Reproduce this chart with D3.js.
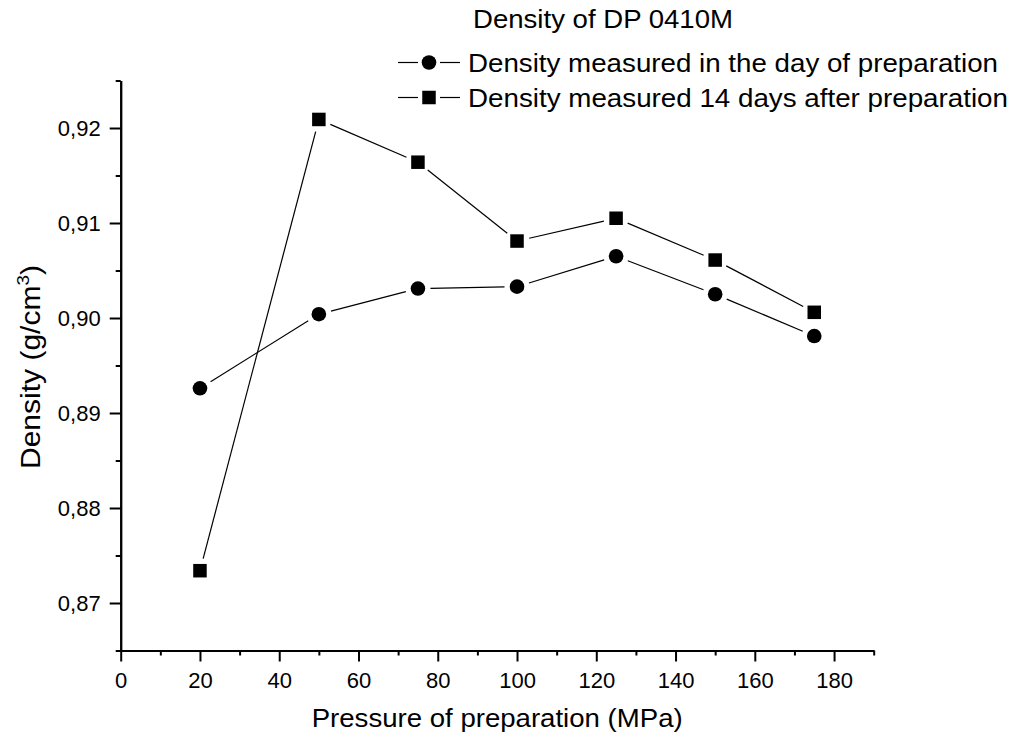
<!DOCTYPE html>
<html>
<head>
<meta charset="utf-8">
<script src="https://cdn.jsdelivr.net/npm/d3@7"></script>
<style>
  body { margin: 0; background: #fff; }
  text { font-family: "Liberation Sans", Arial, sans-serif; fill: #000; }
</style>
</head>
<body>
<script>
// data
var pressure = [20, 50, 75, 100, 125, 150, 175];
var densityDay0 = [0.8926, 0.9004, 0.9031, 0.9033, 0.9065, 0.9025, 0.8981];
var densityDay14 = [0.8734, 0.9209, 0.9164, 0.9081, 0.9105, 0.9061, 0.9006];
var seriesNames = ["Density measured in the day of preparation",
                   "Density measured 14 days after preparation"];
var xTicks = [0, 20, 40, 60, 80, 100, 120, 140, 160, 180];
var yTicks = [0.87, 0.88, 0.89, 0.90, 0.91, 0.92];

var width = 1022, height = 742;
var plotLeft = 120.7, plotRight = 873.7, plotTop = 80.5, plotBottom = 650.5;

var svg = d3.select("body").append("svg")
   .attr("width", width)
   .attr("height", height);

var x = d3.scaleLinear().domain([0, 190]).range([plotLeft, plotRight]);
var y = d3.scaleLinear().domain([0.865, 0.925]).range([plotBottom, plotTop]);

var comma = d3.formatLocale({decimal: ",", thousands: ".", grouping: [3], currency: ["", ""]});

// minor ticks first, then major with labels
svg.append("g")
   .attr("transform", "translate(0," + plotBottom + ")")
   .call(d3.axisBottom(x).tickValues(d3.range(10, 191, 20)).tickSize(5).tickSizeOuter(0).tickFormat(""));
svg.append("g")
   .attr("transform", "translate(0," + plotBottom + ")")
   .call(d3.axisBottom(x).tickValues(xTicks).tickSize(11).tickSizeOuter(0).tickPadding(11));

svg.append("g")
   .attr("transform", "translate(" + plotLeft + ",0)")
   .call(d3.axisLeft(y).tickValues([0.865, 0.875, 0.885, 0.895, 0.905, 0.915, 0.925]).tickSize(5).tickSizeOuter(0).tickFormat(""));
svg.append("g")
   .attr("transform", "translate(" + plotLeft + ",0)")
   .call(d3.axisLeft(y).tickValues(yTicks).tickSize(11).tickSizeOuter(0).tickPadding(9).tickFormat(comma.format(".2f")));

svg.selectAll(".domain").attr("stroke-width", 2);
svg.selectAll(".tick line").attr("stroke-width", 2);
svg.selectAll(".tick text").style("font-size", "22px");

// axis titles
svg.append("text")
   .attr("x", (plotLeft + plotRight) / 2)
   .attr("y", 727)
   .attr("text-anchor", "middle")
   .style("font-size", "25px")
   .attr("textLength", 371)
   .attr("lengthAdjust", "spacingAndGlyphs")
   .text("Pressure of preparation (MPa)");

var ylab = svg.append("text")
   .attr("transform", "translate(40," + 367 + ") rotate(-90)")
   .attr("text-anchor", "middle")
   .attr("textLength", 204)
   .attr("lengthAdjust", "spacingAndGlyphs")
   .style("font-size", "27px");
ylab.append("tspan").text("Density (g/cm");
ylab.append("tspan").attr("dy", -11).style("font-size", "17px").text("3");
ylab.append("tspan").attr("dy", 11).text(")");

// title
svg.append("text")
   .attr("x", 473)
   .attr("y", 28)
   .style("font-size", "25px")
   .attr("textLength", 260)
   .attr("lengthAdjust", "spacingAndGlyphs")
   .text("Density of DP 0410M");

// lines broken around each marker, like the original plot
var gap = 12.5;
function drawSeries(values) {
   var pts = pressure.map(function (p, i) { return [x(p), y(values[i])]; });
   var segs = [];
   for (var i = 0; i < pts.length - 1; i++) {
      var dx = pts[i + 1][0] - pts[i][0], dy = pts[i + 1][1] - pts[i][1];
      var len = Math.sqrt(dx * dx + dy * dy);
      var ux = dx / len, uy = dy / len;
      segs.push([[pts[i][0] + ux * gap, pts[i][1] + uy * gap],
                 [pts[i + 1][0] - ux * gap, pts[i + 1][1] - uy * gap]]);
   }
   svg.append("g").selectAll("line")
      .data(segs)
      .enter().append("line")
      .attr("x1", function (d) { return d[0][0]; })
      .attr("y1", function (d) { return d[0][1]; })
      .attr("x2", function (d) { return d[1][0]; })
      .attr("y2", function (d) { return d[1][1]; })
      .attr("stroke", "#000")
      .attr("stroke-width", 1.2);
}

drawSeries(densityDay0);
svg.append("g").selectAll("circle")
   .data(pressure)
   .enter().append("circle")
   .attr("cx", function (d) { return x(d); })
   .attr("cy", function (d, i) { return y(densityDay0[i]); })
   .attr("r", 7.3)
   .attr("fill", "#000");

drawSeries(densityDay14);
var sq = 13.5;
svg.append("g").selectAll("rect")
   .data(pressure)
   .enter().append("rect")
   .attr("x", function (d) { return x(d) - sq / 2; })
   .attr("y", function (d, i) { return y(densityDay14[i]) - sq / 2; })
   .attr("width", sq)
   .attr("height", sq)
   .attr("fill", "#000");

// legend
var legendY = [62.5, 97.5];
var legendLen = [530, 540];
var lg = svg.append("g").selectAll("g")
   .data(seriesNames)
   .enter().append("g")
   .attr("transform", function (d, i) { return "translate(429," + legendY[i] + ")"; });
lg.append("line").attr("x1", -31).attr("x2", -11).attr("stroke", "#000").attr("stroke-width", 1.2);
lg.append("line").attr("x1", 11).attr("x2", 31).attr("stroke", "#000").attr("stroke-width", 1.2);
lg.each(function (d, i) {
   var g = d3.select(this);
   if (i === 0) {
      g.append("circle").attr("r", 7.3).attr("fill", "#000");
   } else {
      g.append("rect").attr("x", -sq / 2).attr("y", -sq / 2).attr("width", sq).attr("height", sq).attr("fill", "#000");
   }
});
lg.append("text")
   .attr("x", 39)
   .attr("y", 9)
   .style("font-size", "25px")
   .attr("textLength", function (d, i) { return legendLen[i]; })
   .attr("lengthAdjust", "spacingAndGlyphs")
   .text(function (d) { return d; });
</script>
</body>
</html>
